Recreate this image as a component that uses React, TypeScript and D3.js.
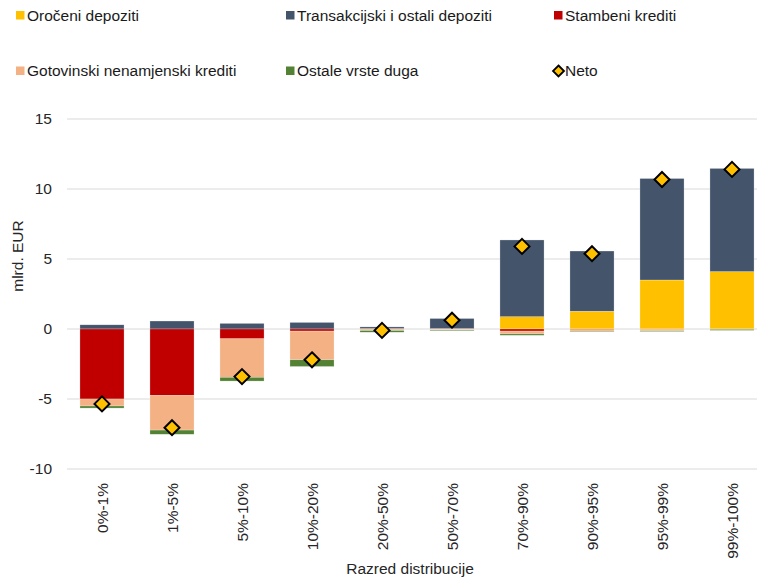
import React from "react";
import * as d3 from "d3";

const categories = ["0%-1%", "1%-5%", "5%-10%", "10%-20%", "20%-50%", "50%-70%", "70%-90%", "90%-95%", "95%-99%", "99%-100%"];
const oroceni = [0, 0, 0, 0, 0.02, 0.02, 0.88, 1.27, 3.5, 4.1];
const transakcijski = [0.3, 0.57, 0.4, 0.47, 0.13, 0.73, 5.48, 4.3, 7.25, 7.37];
const stambeni = [-5.0, -4.75, -0.7, -0.15, -0.01, -0.02, -0.15, -0.05, -0.03, -0.01];
const gotovinski = [-0.5, -2.47, -2.75, -2.05, -0.1, -0.05, -0.2, -0.1, -0.1, -0.02];
const ostale = [-0.15, -0.3, -0.27, -0.48, -0.12, -0.05, -0.1, -0.05, -0.05, -0.07];
const neto = [-5.35, -7.05, -3.4, -2.2, -0.1, 0.63, 5.9, 5.38, 10.68, 11.4];
const yTicks = [-10, -5, 0, 5, 10, 15];

const seriesNames = ["Oročeni depoziti", "Transakcijski i ostali depoziti", "Stambeni krediti", "Gotovinski nenamjenski krediti", "Ostale vrste duga"];
const seriesColors = ["#FFC000", "#44546A", "#C00000", "#F4B183", "#548235"];
const seriesData = [oroceni, transakcijski, stambeni, gotovinski, ostale];

export default function App() {
  const W = 757, H = 577;
  const x = d3.scaleBand<string>().domain(categories).range([67, 767]).paddingInner(0.37).paddingOuter(0.185);
  const y = d3.scaleLinear().domain([-10, 15]).range([469, 119]);

  const rows = categories.map((c, i) => {
    const r: any = { cat: c };
    seriesNames.forEach((n, k) => (r[n] = seriesData[k][i]));
    return r;
  });
  const stack = d3.stack<any>().keys(seriesNames).offset(d3.stackOffsetDiverging)(rows);

  const legend = [
    { name: seriesNames[0], color: seriesColors[0], x: 16, y: 15.5, type: "sq" },
    { name: seriesNames[1], color: seriesColors[1], x: 286, y: 15.5, type: "sq" },
    { name: seriesNames[2], color: seriesColors[2], x: 554, y: 15.5, type: "sq" },
    { name: seriesNames[3], color: seriesColors[3], x: 16, y: 71, type: "sq" },
    { name: seriesNames[4], color: seriesColors[4], x: 286, y: 71, type: "sq" },
    { name: "Neto", color: "#FFC000", x: 554, y: 71, type: "dm" },
  ];

  const font = "'Liberation Sans', Arial, sans-serif";
  const fs = 15.5;
  const diamond = (cx: number, cy: number, r: number) =>
    `M${cx},${cy - r}L${cx + r},${cy}L${cx},${cy + r}L${cx - r},${cy}Z`;

  return (
    <svg width={W} height={H} style={{ position: "absolute", left: 0, top: 0, background: "#fff" }} fontFamily={font}>
      {yTicks.map((t) => (
        <g key={t}>
          <line x1={67} x2={W} y1={y(t)} y2={y(t)} stroke="#d9d9d9" strokeWidth={1} />
          <text x={52} y={y(t)} dy="0.35em" textAnchor="end" fontSize={fs} fill="#262626">{t}</text>
        </g>
      ))}
      {stack.map((s, k) => (
        <g key={k} fill={seriesColors[k]}>
          {s.map((d, i) => {
            const y0 = y(d[0]), y1 = y(d[1]);
            const top = Math.min(y0, y1), h = Math.abs(y1 - y0);
            if (h <= 0) return null;
            return <rect key={i} x={x(categories[i])} width={x.bandwidth()} y={top} height={h} stroke="#ffffff" strokeOpacity={0.5} strokeWidth={0.5} />;
          })}
        </g>
      ))}
      {neto.map((v, i) => (
        <path key={i} d={diamond(x(categories[i])! + x.bandwidth() / 2, y(v), 7.5)} fill="#FFC000" stroke="#000" strokeWidth={2} strokeLinejoin="miter" />
      ))}
      {categories.map((c) => {
        const cx = x(c)! + x.bandwidth() / 2;
        return (
          <text key={c} transform={`translate(${cx + 5.5},483) rotate(-90)`} textAnchor="end" fontSize={fs} fill="#262626">{c}</text>
        );
      })}
      <text transform="translate(23,256) rotate(-90)" textAnchor="middle" fontSize={fs} fill="#262626">mlrd. EUR</text>
      <text x={410} y={574} textAnchor="middle" fontSize={fs} fill="#262626">Razred distribucije</text>
      {legend.map((l) => (
        <g key={l.name}>
          {l.type === "sq" ? (
            <rect x={l.x} y={l.y - 4.5} width={8.5} height={8.5} fill={l.color} />
          ) : (
            <path d={diamond(l.x + 4.5, l.y, 5.5)} fill={l.color} stroke="#000" strokeWidth={1.8} />
          )}
          <text x={l.x + 11} y={l.y} dy="0.35em" fontSize={fs} fill="#1a1a1a">{l.name}</text>
        </g>
      ))}
    </svg>
  );
}
